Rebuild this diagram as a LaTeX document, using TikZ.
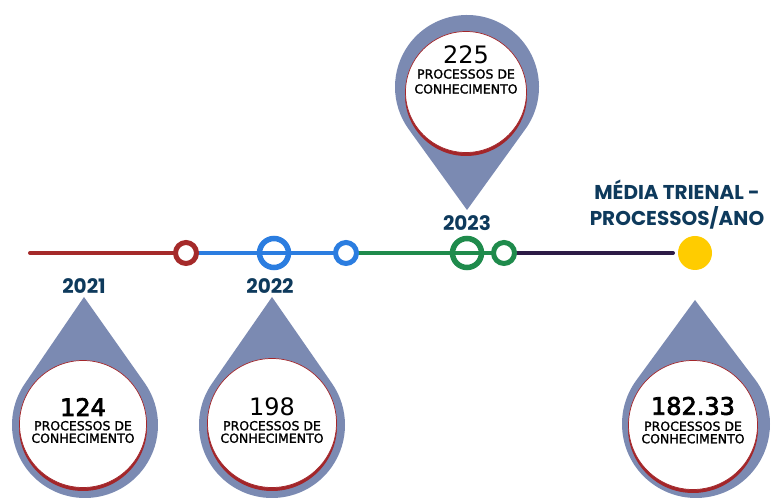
\documentclass[tikz,border=0pt]{standalone}
\usepackage{fontspec}
\usetikzlibrary{calc}
\setmainfont{DejaVu Sans}
\newfontfamily\headfont{Poppins}
\newfontfamily\numbf{DejaVu Sans}[FakeBold=3]
\newfontfamily\lblfont{DejaVu Sans}[FakeBold=1.5]
\definecolor{dropblue}{HTML}{7B8AB2}
\definecolor{rimred}{HTML}{A3262A}
\definecolor{navy}{HTML}{0E3A5C}
\definecolor{lred}{HTML}{A52A2A}
\definecolor{lblue}{HTML}{2B7DE0}
\definecolor{lgreen}{HTML}{1F8B4C}
\definecolor{lpurple}{HTML}{2D1B46}
\definecolor{lyellow}{HTML}{FFCC00}
\begin{document}
\begin{tikzpicture}[x=1pt,y=1pt,
  head/.style={font=\headfont\bfseries\fontsize{20}{26}\selectfont, text=navy, align=center, inner sep=0pt},
  numtxt/.style={font=\fontsize{24}{28}\selectfont, text=black, inner sep=0pt},
  numbold/.style={font=\numbf\fontsize{24}{28}\selectfont, text=black, inner sep=0pt},
  lbltxt/.style={font=\lblfont\fontsize{12.5}{12.5}\selectfont, align=center, text=black, inner sep=0pt},
  ringsmall/.style={circle, minimum size=21pt, inner sep=0pt, line width=5pt, fill=white},
  ringbig/.style={circle, minimum size=29pt, inner sep=0pt, line width=5.5pt},
  tl/.style={line width=4pt},
  dropfill/.style={fill=dropblue},
]
\useasboundingbox (0,0) rectangle (771,503);

% ---------- drops ----------
% 2021
\coordinate (t1) at (84,206);
\coordinate (c1) at (85,78);
\fill[dropfill] (t1) -- ($(c1)+(145:73)$) arc[start angle=145, end angle=395, radius=73] -- cycle;
\fill[rimred] (83,76) circle[radius=64];
\filldraw[fill=white, draw=rimred, line width=0.7pt] (83,79) circle[radius=63.5];
% 2022
\coordinate (t2) at (272,206);
\coordinate (c2) at (272,78);
\fill[dropfill] (t2) -- ($(c2)+(145:73)$) arc[start angle=145, end angle=395, radius=73] -- cycle;
\fill[rimred] (272,77) circle[radius=65];
\filldraw[fill=white, draw=rimred, line width=0.7pt] (272,80) circle[radius=64.5];
% media
\coordinate (t4) at (695,203);
\coordinate (c4) at (696,79);
\fill[dropfill] (t4) -- ($(c4)+(143.4:74)$) arc[start angle=143.4, end angle=396.6, radius=74] -- cycle;
\fill[rimred] (693,75) circle[radius=65];
\filldraw[fill=white, draw=rimred, line width=0.7pt] (693,78) circle[radius=64.5];
% 2023 (inverted)
\coordinate (t3) at (467,293);
\coordinate (c3) at (467,416);
\fill[dropfill] (t3) -- ($(c3)+(324:72)$) arc[start angle=324, end angle=576, radius=72] -- cycle;
\fill[rimred] (466,408) circle[radius=61];
\filldraw[fill=white, draw=rimred, line width=0.7pt] (466,411) circle[radius=60.5];

% ---------- texts in drops ----------
\node[numbold] (n1) at (83,96) {124};
\node[lbltxt] (l1) at (83,71) {PROCESSOS DE\\CONHECIMENTO};
\node[numtxt] (n2) at (272,96) {198};
\node[lbltxt] (l2) at (272,71) {PROCESSOS DE\\CONHECIMENTO};
\node[numbold] (n4) at (693,97) {182.33};
\node[lbltxt] (l4) at (693,70.5) {PROCESSOS DE\\CONHECIMENTO};
\node[numtxt] (n3) at (466,448) {225};
\node[lbltxt, font=\lblfont\fontsize{12.5}{15}\selectfont] (l3) at (466,421.5) {PROCESSOS DE\\CONHECIMENTO};

% ---------- timeline ----------
\coordinate (start) at (30,250);
\coordinate (pend) at (673,250);
\node (r1) at (186,250) {};
\node (b1) at (274,250) {};
\node (b2) at (346,250) {};
\node (g1) at (467,250) {};
\node (g2) at (504,250) {};
\draw[tl, lred, line cap=round] (start) -- (r1.center);
\draw[tl, lblue] (r1.center) -- (b2.center);
\draw[tl, lgreen] (b2.center) -- (g2.center);
\draw[tl, lpurple, line cap=round] (g2.center) -- (pend);
\node[ringsmall, draw=lred] (rr1) at (r1) {};
\node[ringbig, draw=lblue] (rb1) at (b1) {};
\node[ringsmall, draw=lblue] (rb2) at (b2) {};
\node[ringbig, draw=lgreen] (rg1) at (g1) {};
\node[ringsmall, draw=lgreen] (rg2) at (g2) {};
\node[circle, fill=lyellow, minimum size=34pt, inner sep=0pt] (yel) at (695,250) {};

% ---------- headings ----------
\node[head] (h1) at (84,217) {2021};
\node[head] (h2) at (270,217) {2022};
\node[head] (h3) at (467,280) {2023};
\node[head] (h4) at (677,298) {MÉDIA TRIENAL -\\PROCESSOS/ANO};
\end{tikzpicture}
\end{document}
